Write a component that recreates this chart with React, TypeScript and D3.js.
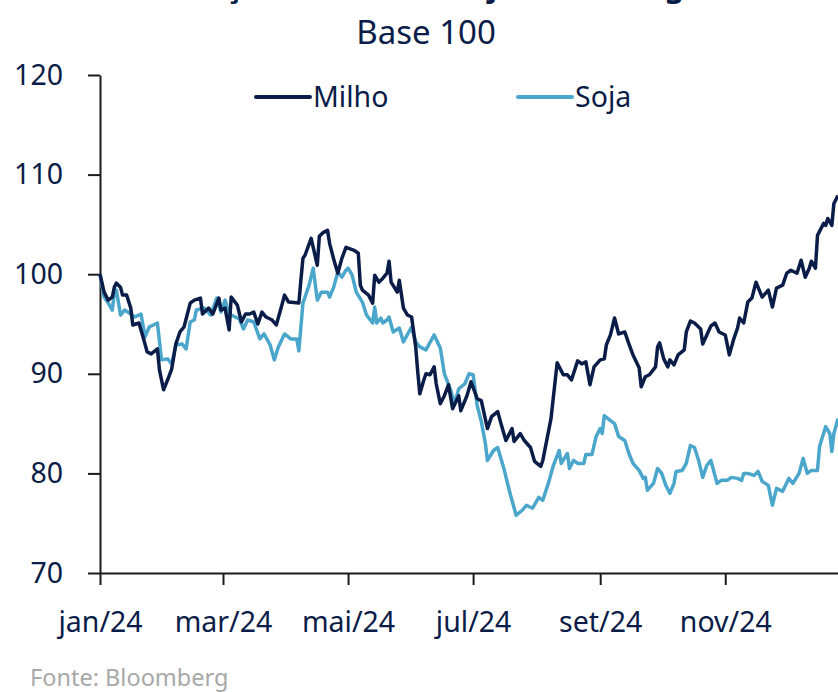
import {default as React, useEffect, useRef} from "react";
import * as d3 from "d3";

// day offsets from 1 jan 2024, index values (base 100)
const milhoDays = [0, 2, 4, 6, 7, 8, 10, 11, 13, 15, 16, 19, 21, 23, 25, 28, 29, 31, 33, 35, 37, 39, 41, 42, 44, 46, 49, 50, 53, 55, 58, 59, 61, 63, 64, 67, 69, 71, 73, 75, 77, 79, 81, 84, 86, 89, 90, 92, 97, 98, 99, 100, 103, 106, 107, 109, 111, 112, 114, 116, 118, 120, 124, 126, 127, 128, 131, 133, 134, 136, 138, 140, 141, 142, 145, 146, 148, 150, 152, 154, 155, 156, 158, 159, 161, 163, 164, 166, 168, 170, 172, 175, 176, 179, 181, 184, 186, 189, 191, 194, 196, 198, 201, 202, 205, 207, 210, 212, 215, 216, 220, 223, 224, 226, 228, 230, 233, 235, 237, 239, 241, 244, 246, 247, 249, 251, 253, 256, 258, 260, 263, 264, 266, 268, 271, 272, 273, 275, 277, 278, 280, 282, 285, 286, 288, 290, 293, 294, 296, 298, 300, 302, 305, 307, 309, 311, 312, 314, 316, 318, 320, 322, 323, 326, 328, 330, 333, 335, 337, 340, 342, 344, 346, 347, 349, 350, 353, 354, 355, 357, 358, 360];
const milhoValues = [100, 98.2, 97.4, 97.7, 98.7, 99.1, 98.7, 97.9, 97.9, 96.6, 94.9, 95.1, 93.7, 92.2, 92.0, 92.5, 90.4, 88.4, 89.4, 90.5, 93.0, 94.2, 94.7, 95.5, 97.1, 97.4, 97.6, 96.0, 96.6, 96.0, 97.6, 96.4, 96.6, 94.4, 97.7, 96.9, 95.2, 96.0, 96.0, 96.2, 95.0, 96.2, 95.7, 95.4, 94.9, 97.1, 97.9, 97.2, 97.1, 99.4, 101.6, 101.9, 103.6, 100.9, 103.8, 104.2, 104.4, 103.1, 101.5, 100.1, 101.6, 102.7, 102.4, 102.1, 98.9, 98.4, 97.9, 97.1, 99.9, 99.2, 99.6, 100.1, 101.3, 99.2, 98.2, 99.4, 96.6, 95.9, 95.7, 92.7, 90.2, 88.0, 89.4, 90.0, 89.9, 90.7, 89.0, 87.0, 87.8, 88.9, 86.5, 87.8, 86.3, 87.8, 89.2, 87.5, 87.3, 84.5, 85.7, 86.2, 84.7, 83.3, 84.5, 83.2, 84.0, 83.3, 82.6, 81.2, 80.7, 81.3, 85.5, 91.1, 90.7, 89.9, 89.9, 89.4, 91.3, 91.0, 91.2, 88.9, 90.7, 91.4, 91.5, 92.9, 93.9, 95.6, 94.0, 94.2, 93.0, 91.9, 90.6, 88.7, 89.7, 89.9, 90.7, 92.7, 93.1, 91.5, 90.7, 91.4, 90.9, 91.9, 92.4, 94.2, 95.3, 95.1, 94.5, 93.0, 93.9, 94.8, 95.1, 94.2, 93.9, 91.9, 93.4, 94.6, 95.6, 95.1, 97.2, 97.6, 99.2, 98.2, 97.7, 98.4, 96.7, 98.6, 98.9, 100.1, 100.4, 100.1, 101.4, 99.7, 100.6, 101.3, 100.6, 103.9, 105.1, 104.9, 105.6, 104.9, 107.1, 107.9];

const sojaDays = [0, 2, 4, 6, 7, 8, 10, 12, 15, 17, 20, 22, 24, 28, 30, 33, 35, 37, 40, 42, 44, 46, 47, 51, 54, 57, 59, 61, 63, 68, 70, 72, 75, 78, 80, 83, 85, 87, 90, 93, 96, 97, 99, 102, 104, 106, 108, 111, 112, 114, 116, 118, 120, 121, 123, 125, 128, 130, 133, 134, 135, 137, 138, 140, 141, 143, 146, 148, 152, 154, 156, 159, 163, 166, 168, 171, 173, 175, 178, 180, 182, 184, 186, 188, 189, 192, 194, 197, 200, 203, 206, 208, 211, 214, 216, 219, 221, 224, 225, 228, 229, 231, 233, 236, 237, 240, 242, 244, 245, 246, 249, 251, 253, 256, 258, 260, 263, 265, 266, 267, 270, 272, 274, 276, 278, 280, 281, 284, 286, 288, 290, 292, 294, 296, 298, 301, 303, 306, 308, 311, 313, 314, 316, 319, 321, 323, 326, 328, 330, 333, 336, 338, 341, 343, 345, 347, 350, 351, 354, 356, 357, 358, 360];
const sojaValues = [100, 97.7, 97.1, 96.4, 98.1, 98.4, 95.9, 96.4, 96.0, 95.7, 96.0, 93.7, 94.7, 95.1, 91.4, 91.5, 91.0, 92.9, 93.0, 92.5, 95.2, 95.4, 96.4, 96.6, 95.9, 97.6, 96.2, 97.4, 96.0, 95.5, 94.5, 95.4, 95.2, 93.5, 94.0, 92.9, 91.4, 92.7, 94.0, 93.5, 93.5, 92.3, 97.1, 98.9, 100.6, 97.4, 98.2, 98.2, 97.7, 98.7, 100.2, 99.7, 100.4, 100.6, 99.9, 98.2, 97.2, 95.9, 95.1, 96.7, 95.1, 95.6, 95.1, 95.4, 95.7, 94.2, 94.6, 93.2, 94.7, 93.2, 92.7, 92.4, 93.9, 92.6, 90.0, 88.4, 87.0, 88.5, 89.0, 90.0, 89.9, 86.8, 85.2, 83.0, 81.3, 82.3, 82.6, 80.5, 78.0, 75.8, 76.3, 76.8, 76.5, 77.6, 77.3, 79.2, 80.7, 82.3, 81.0, 82.0, 80.5, 81.3, 81.0, 81.0, 81.9, 81.9, 83.7, 84.5, 84.0, 85.8, 85.3, 85.0, 83.7, 83.3, 82.0, 81.0, 80.3, 79.5, 79.6, 78.3, 79.0, 80.5, 80.0, 78.8, 78.0, 79.0, 80.2, 80.3, 81.0, 82.8, 82.6, 81.3, 79.6, 80.8, 81.3, 79.0, 79.3, 79.3, 79.6, 79.5, 79.3, 80.0, 80.0, 79.8, 80.2, 79.2, 78.8, 76.8, 78.5, 78.2, 79.5, 79.0, 80.0, 81.5, 80.0, 80.3, 80.3, 82.7, 84.7, 84.0, 82.2, 84.0, 85.5];

const yTicks = [70, 80, 90, 100, 110, 120];
const monthNames = ["jan", "fev", "mar", "abr", "mai", "jun", "jul", "ago", "set", "out", "nov", "dez"];
const xTickMonths = [0, 2, 4, 6, 8, 10];

const title = "Preços de milho e soja em Chicago";
const subtitle = "Base 100";
const source = "Fonte: Bloomberg";

const navy = "#0a1c48";
const lightBlue = "#4ba6cc";
const font = "'Noto Sans', sans-serif";

const width = 838;
const height = 692;
const margin = {left: 100, right: 0, top: 75, bottom: 119};

const start = new Date(2024, 0, 1);

export default function App() {
    const containerRef = useRef<SVGSVGElement>(null);

    useEffect(() => {
        draw();
    }, []);

    function draw() {
        const svg = d3.select(containerRef.current);
        svg.selectAll("*").remove();

        const xScale = d3.scaleTime()
            .domain([start, d3.timeDay.offset(start, 360)])
            .range([margin.left, width - margin.right]);

        const yScale = d3.scaleLinear()
            .domain([70, 120])
            .range([height - margin.bottom, margin.top]);

        // title (cut off at the top, only descenders show) and subtitle
        svg.append("text")
            .attr("x", 174).attr("y", -3)
            .attr("font-size", 31).attr("font-weight", "bold")
            .attr("fill", navy)
            .text(title);
        svg.append("text")
            .attr("x", 426).attr("y", 44)
            .attr("text-anchor", "middle")
            .attr("font-size", 33)
            .attr("fill", navy)
            .text(subtitle);

        const xAxis = d3.axisBottom<Date>(xScale)
            .tickValues(xTickMonths.map(m => new Date(2024, m, 1)))
            .tickFormat(d => `${monthNames[d.getMonth()]}/${String(d.getFullYear()).slice(2)}`)
            .tickSize(12)
            .tickSizeOuter(0)
            .tickPadding(27);

        const yAxis = d3.axisLeft(yScale)
            .tickValues(yTicks)
            .tickSize(12)
            .tickSizeOuter(0)
            .tickPadding(25);

        const gx = svg.append("g")
            .attr("transform", `translate(0,${height - margin.bottom})`)
            .call(xAxis);
        const gy = svg.append("g")
            .attr("transform", `translate(${margin.left},0)`)
            .call(yAxis);

        [gx, gy].forEach(g => {
            g.attr("font-family", font).attr("font-size", 28.5);
            g.selectAll("path, line").attr("stroke", "#1b1b1b").attr("stroke-width", 2);
            g.selectAll("text").attr("fill", navy);
        });

        const line = d3.line<[number, number]>()
            .x(d => xScale(d3.timeDay.offset(start, d[0])))
            .y(d => yScale(d[1]));

        const series = [
            {name: "Soja", days: sojaDays, values: sojaValues, color: lightBlue},
            {name: "Milho", days: milhoDays, values: milhoValues, color: navy},
        ];

        series.forEach(s => {
            svg.append("path")
                .datum(s.days.map((d, i) => [d, s.values[i]] as [number, number]))
                .attr("fill", "none")
                .attr("stroke", s.color)
                .attr("stroke-width", 3.5)
                .attr("stroke-linejoin", "round")
                .attr("d", line);
        });

        // legend
        const legend = [
            {name: "Milho", color: navy, x: 256},
            {name: "Soja", color: lightBlue, x: 518},
        ];
        legend.forEach(l => {
            svg.append("line")
                .attr("x1", l.x).attr("x2", l.x + 54)
                .attr("y1", 97).attr("y2", 97)
                .attr("stroke", l.color)
                .attr("stroke-width", 4)
                .attr("stroke-linecap", "round");
            svg.append("text")
                .attr("x", l.x + 57).attr("y", 107)
                .attr("font-size", 28.5)
                .attr("fill", navy)
                .text(l.name);
        });

        svg.append("text")
            .attr("x", 30).attr("y", 686)
            .attr("font-size", 23.5)
            .attr("fill", "#a8a8a8")
            .text(source);
    }

    return (
        <svg
            width={width}
            height={height}
            ref={containerRef}
            style={{position: "absolute", left: 0, top: 0, backgroundColor: "white", fontFamily: font}}
        />
    );
}
